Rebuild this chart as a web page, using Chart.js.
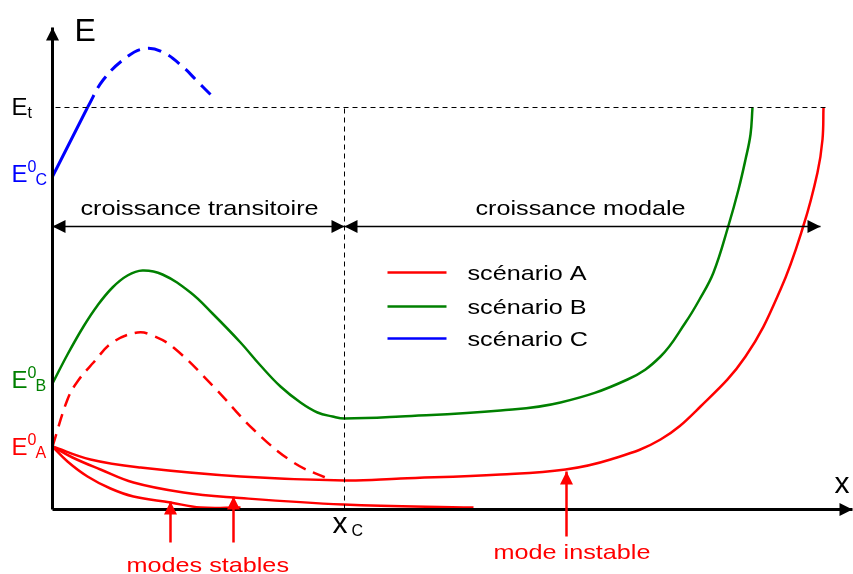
<!DOCTYPE html>
<html>
<head>
<meta charset="utf-8">
<script src="https://cdn.jsdelivr.net/npm/chart.js@4.4.1/dist/chart.umd.min.js"></script>
<style>
  html, body { margin: 0; padding: 0; background: #fff; }
  #wrap { width: 853px; height: 574px; }
</style>
</head>
<body>
<div id="wrap"><canvas id="energyChart" width="853" height="574"></canvas></div>
<script>
// Schematic values (x = distance along flow, y = energy, arbitrary units)
const xC = 292;
const Et = 402;

// scenario C
const blueSolidX = [0, 35];
const blueSolidY = [333, 402];
const blueDashX = [35, 51, 75, 93, 111, 130, 145, 158];
const blueDashY = [402, 430, 453, 461, 457, 443, 428, 415];

// scenario B
const greenX = [0, 15, 31, 45, 60, 75, 90, 110, 138, 160, 188, 208, 228, 248, 265, 280, 292,
    348, 448, 508, 575, 608, 633, 647, 661, 676, 686, 693, 698, 700];
const greenY = [126, 155, 183, 204, 222, 234, 239, 235, 217, 196, 167, 144, 123, 107, 97, 93, 91,
    93, 99, 107, 130, 153, 187, 210, 237, 284, 320, 350, 375, 402];

// scenario A
const redDashX = [0, 15, 25, 41, 60, 85, 100, 121, 161, 201, 241, 275];
const redDashY = [63, 110, 128, 147, 167, 177, 174, 162, 123, 80, 47, 31];
const redAX = [0, 38, 88, 188, 292, 348, 448, 513, 558, 608, 648, 693, 728, 751, 765, 770, 771];
const redAY = [63, 50, 42, 33, 29, 31, 35, 40, 50, 70, 103, 153, 220, 284, 337, 370, 402];
const stable1X = [0, 20, 48, 81, 131, 181, 291, 421];
const stable1Y = [63, 52, 40, 27, 17, 12, 5, 2];
const stable2X = [0, 15, 35, 58, 81, 118, 148, 188];
const stable2Y = [63, 48, 33, 21, 13, 7, 2, 2];

const legendLabels = ['scénario A', 'scénario B', 'scénario C'];
const RED = '#ff0000', GREEN = '#008000', BLUE = '#0000ff';
const FONT = "'Liberation Sans', Arial, sans-serif";

function pts(xs, ys) {
    return xs.map((x, i) => ({ x: x, y: ys[i] }));
}

function curve(xs, ys, color, dash, width) {
    return {
        data: pts(xs, ys),
        borderColor: color,
        borderWidth: width || 2.5,
        borderDash: dash || [],
        pointRadius: 0,
        fill: false,
        tension: 0.4
    };
}

// arrows in data units: [x0, y0, x1, y1, headAtStart, headAtEnd, color, width]
const arrows = [
    [0, 0, 0, 482, false, true, '#000', 3],
    [0, 0, 800, 0, false, true, '#000', 3],
    [0, 283, xC, 283, true, true, '#000', 1.3],
    [xC, 283, 768, 283, true, true, '#000', 1.3],
    [118, -33, 118, 8, false, true, RED, 2.5],
    [181, -33, 181, 13, false, true, RED, 2.5],
    [514, -27, 514, 38, false, true, RED, 2.5]
];

function drawHead(ctx, xa, ya, xb, yb, color) {
    // head pointing from a to b, tip at b
    const ang = Math.atan2(yb - ya, xb - xa);
    const len = 13, half = 6.5;
    ctx.save();
    ctx.translate(xb, yb);
    ctx.rotate(ang);
    ctx.beginPath();
    ctx.moveTo(0, 0);
    ctx.lineTo(-len, -half);
    ctx.lineTo(-len, half);
    ctx.closePath();
    ctx.fillStyle = color;
    ctx.fill();
    ctx.restore();
}

// wide text, as in the original drawing
function wideText(ctx, t, x, y) {
    ctx.save();
    ctx.translate(x, y);
    ctx.scale(1.2, 1);
    ctx.fillText(t, 0, 0);
    ctx.restore();
}

function eLabel(ctx, x, y, sup, sub, color) {
    ctx.fillStyle = color;
    ctx.font = '24px ' + FONT;
    ctx.fillText('E', x, y);
    ctx.font = '16px ' + FONT;
    if (sup) ctx.fillText(sup, x + 16, y - 10);
    if (sub) ctx.fillText(sub, x + (sup ? 24 : 16), y + 3);
}

const annotationPlugin = {
    id: 'annotations',
    afterDatasetsDraw(chart) {
        const ctx = chart.ctx;
        const sx = chart.scales.x, sy = chart.scales.y;
        const px = v => sx.getPixelForValue(v);
        const py = v => sy.getPixelForValue(v);
        ctx.save();

        arrows.forEach(a => {
            const [x0, y0, x1, y1, hs, he, color, w] = a;
            const p0x = px(x0), p0y = py(y0), p1x = px(x1), p1y = py(y1);
            ctx.strokeStyle = color;
            ctx.lineWidth = w;
            ctx.beginPath();
            ctx.moveTo(p0x, p0y);
            ctx.lineTo(p1x, p1y);
            ctx.stroke();
            if (he) drawHead(ctx, p0x, p0y, p1x, p1y, color);
            if (hs) drawHead(ctx, p1x, p1y, p0x, p0y, color);
        });

        ctx.textBaseline = 'alphabetic';
        ctx.textAlign = 'left';

        // axis names
        ctx.fillStyle = '#000';
        ctx.font = '32px ' + FONT;
        ctx.fillText('E', px(22), py(469));
        ctx.font = '30px ' + FONT;
        ctx.fillText('x', px(782), py(17));
        ctx.fillText('x', px(280), py(-23));
        ctx.font = '16px ' + FONT;
        ctx.fillText('C', px(299), py(-26));

        // energy levels
        eLabel(ctx, px(-41), py(395), null, 't', '#000');
        eLabel(ctx, px(-41), py(328), '0', 'C', BLUE);
        eLabel(ctx, px(-41), py(122), '0', 'B', GREEN);
        eLabel(ctx, px(-41), py(55), '0', 'A', RED);

        // regime labels
        ctx.fillStyle = '#000';
        ctx.font = '21px ' + FONT;
        wideText(ctx, 'croissance transitoire', px(28), py(295));
        wideText(ctx, 'croissance modale', px(423), py(295));

        ctx.fillStyle = RED;
        wideText(ctx, 'modes stables', px(74), py(-62));
        wideText(ctx, 'mode instable', px(441), py(-49));

        // legend
        const colors = [RED, GREEN, BLUE];
        const rows = [237, 203, 171];
        legendLabels.forEach((lab, i) => {
            ctx.strokeStyle = colors[i];
            ctx.lineWidth = 2.5;
            ctx.beginPath();
            ctx.moveTo(px(335), py(rows[i]));
            ctx.lineTo(px(394), py(rows[i]));
            ctx.stroke();
            ctx.fillStyle = '#000';
            ctx.font = '21px ' + FONT;
            wideText(ctx, lab, px(415), py(rows[i]) + 7);
        });

        ctx.restore();
    }
};

new Chart(document.getElementById('energyChart'), {
    type: 'line',
    data: {
        datasets: [
            { data: [{ x: 3, y: Et }, { x: 773, y: Et }], borderColor: '#000', borderWidth: 1, borderDash: [5, 4], pointRadius: 0 },
            { data: [{ x: xC, y: 0 }, { x: xC, y: Et }], borderColor: '#000', borderWidth: 1, borderDash: [5, 4], pointRadius: 0 },
            curve(stable2X, stable2Y, RED),
            curve(stable1X, stable1Y, RED),
            curve(redAX, redAY, RED),
            curve(redDashX, redDashY, RED, [13, 8]),
            curve(greenX, greenY, GREEN),
            curve(blueSolidX, blueSolidY, BLUE, [], 3),
            curve(blueDashX, blueDashY, BLUE, [14, 8], 3)
        ]
    },
    options: {
        responsive: false,
        animation: false,
        devicePixelRatio: 1,
        layout: { padding: 0 },
        plugins: { legend: { display: false }, tooltip: { enabled: false } },
        scales: {
            x: { type: 'linear', min: -52.5, max: 800.5, display: false },
            y: { type: 'linear', min: -64.5, max: 509.5, display: false }
        }
    },
    plugins: [annotationPlugin]
});
</script>
</body>
</html>
